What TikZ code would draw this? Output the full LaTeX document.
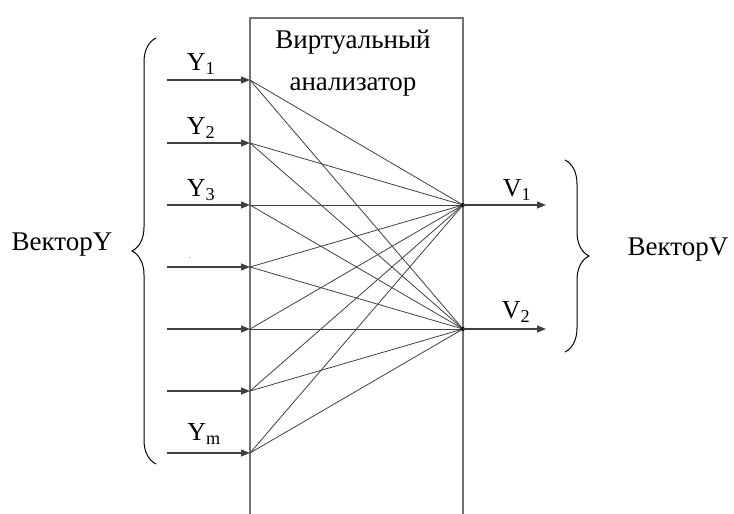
\documentclass[tikz,border=0pt]{standalone}
\usepackage{fontspec}
\setmainfont{Liberation Serif}
\usetikzlibrary{positioning, arrows.meta, decorations.pathreplacing}

\begin{document}
\begin{tikzpicture}[
				x=1pt, y=-1pt,
				>={Triangle[length=9pt,width=7pt]},
				font=\fontsize{27}{30}\selectfont,
				frame/.style={draw=black!55, line width=1.6pt},
				wire/.style={draw=black!75, line width=0.8pt},
				feed/.style={->, draw=black!75, line width=1.2pt},
				curly/.style={decorate, decoration={brace, amplitude=24pt}, line width=1pt},
				lbl/.style={inner sep=0pt, font=\fontsize{26}{28}\selectfont}
				]
				\useasboundingbox (0,0) rectangle (734,514);
				
				% Analyzer block
				\draw[frame] (250,514) -- (250,18) -- (463,18) -- (463,514);
				\node (title1) at (353,42) {Виртуальный};
				\node (title2) at (353,87) {анализатор};
				
				% Input and output points
				\foreach \i/\yy in {1/80,2/143,3/205,4/267,5/329,6/391,7/453} {
					\coordinate (src\i) at (167,\yy);
					\coordinate (in\i) at (250,\yy);
				}
				\coordinate (out1) at (463,205);
				\coordinate (out2) at (463,329);
				\coordinate (dst1) at (546,205);
				\coordinate (dst2) at (546,329);
				
				% Full connection
				\foreach \i in {1,...,7} {
					\draw[wire] (in\i) -- (out1);
					\draw[wire] (in\i) -- (out2);
				}
				\fill (out1) circle (2pt);
				\fill (out2) circle (2pt);
				
				% Input arrows
				\foreach \i in {1,...,7}
					\draw[feed] (src\i) -- (in\i);
				\draw[feed] (out1) -- (dst1);
				\draw[feed] (out2) -- (dst2);
				
				% Labels
				\node[lbl] (ly1) at (201,64) {Y\textsubscript{1}};
				\node[lbl] (ly2) at (201,128) {Y\textsubscript{2}};
				\node[lbl] (ly3) at (201,190) {Y\textsubscript{3}};
				\node[lbl, font=\tiny] (ly4) at (190,259) {-};
				\node[lbl] (lym) at (204,434) {Y\textsubscript{m}};
				\node[lbl] (lv1) at (517,190) {V\textsubscript{1}};
				\node[lbl] (lv2) at (516,312) {V\textsubscript{2}};
				
				% Braces
				\draw[curly] (156,464) -- (156,38);
				\draw[curly] (565,160) -- (565,352);
				\node (vecy) at (62,245) {ВекторY};
				\node (vecv) at (678,250) {ВекторV};
				
			\end{tikzpicture}
\end{document}
